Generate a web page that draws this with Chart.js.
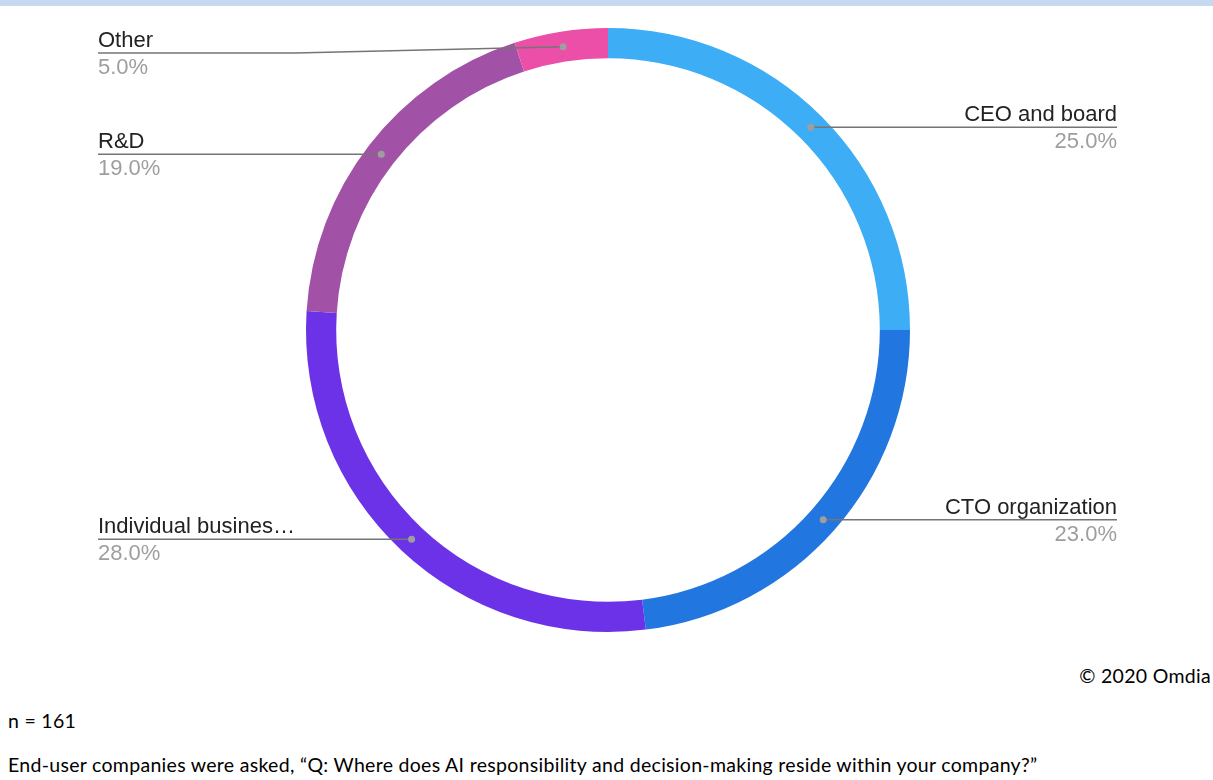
<!DOCTYPE html>
<html>
<head>
<meta charset="utf-8">
<script src="https://cdn.jsdelivr.net/npm/chart.js@4.4.1/dist/chart.umd.min.js"></script>
<style>
  html, body { margin: 0; padding: 0; background: #fff; }
  body { width: 1213px; height: 780px; position: relative; overflow: hidden; }
  .band { position: absolute; left: 0; top: 0; width: 1213px; height: 6px; background: #c6d9f0; }
  .chart-box { position: absolute; left: 0; top: 0; width: 1213px; height: 660px; }
  .note { position: absolute; font-family: Lato, sans-serif; font-size: 19.5px; letter-spacing: 0.3px; color: #000; white-space: nowrap; }
</style>
</head>
<body>
<div class="band"></div>
<div class="chart-box"><canvas id="chart"></canvas></div>
<div class="note" id="copy" style="right: 2px; top: 664px;">© 2020 Omdia</div>
<div class="note" id="base" style="left: 8px; top: 709px;">n = 161</div>
<div class="note" id="question" style="left: 8px; top: 753px;">End-user companies were asked, “Q: Where does AI responsibility and decision-making reside within your company?”</div>

<script>
const labels = ['CEO and board', 'CTO organization', 'Individual busines…', 'R&D', 'Other']
const shares = [25.0, 23.0, 28.0, 19.0, 5.0]
const colors = ['#3daef5', '#2276e0', '#6b32e8', '#a152a6', '#ec4fa8']

// leader lines with name + percentage at each side of the ring
const sideLabels = {
  id: 'sideLabels',
  afterDraw(chart, args, opts) {
    const ctx = chart.ctx
    const meta = chart.getDatasetMeta(0)
    meta.data.forEach((arc, i) => {
      const mid = (arc.startAngle + arc.endAngle) / 2
      const r = (arc.innerRadius + arc.outerRadius) / 2
      const dx = arc.x + Math.cos(mid) * r
      const dy = arc.y + Math.sin(mid) * r
      const right = Math.cos(mid) >= 0
      const lineY = Math.max(dy, opts.minY)
      const endX = right ? opts.rightX : opts.leftX

      ctx.save()
      ctx.strokeStyle = '#757575'
      ctx.lineWidth = 1.5
      ctx.beginPath()
      ctx.moveTo(dx, dy)
      if (lineY !== dy) {
        const elbowX = right ? opts.rightElbow : opts.leftElbow
        ctx.lineTo(elbowX, lineY)
      }
      ctx.lineTo(endX, lineY)
      ctx.stroke()

      ctx.fillStyle = '#9e9e9e'
      ctx.beginPath()
      ctx.arc(dx, dy, 3.5, 0, Math.PI * 2)
      ctx.fill()

      ctx.textAlign = right ? 'right' : 'left'
      ctx.textBaseline = 'alphabetic'
      ctx.font = '22px "Liberation Sans", Arial, sans-serif'
      ctx.fillStyle = '#222222'
      ctx.fillText(chart.data.labels[i], endX, lineY - 6)
      ctx.fillStyle = '#9e9e9e'
      ctx.fillText(shares[i].toFixed(1) + '%', endX, lineY + 21)
      ctx.restore()
    })
  }
}

new Chart(document.getElementById('chart'), {
  type: 'doughnut',
  data: {
    labels: labels,
    datasets: [
      {
        data: shares,
        backgroundColor: colors,
        borderWidth: 0,
      },
    ],
  },
  options: {
    responsive: true,
    maintainAspectRatio: false,
    animation: false,
    events: [],
    cutout: '90%',
    layout: {
      padding: { top: 28, bottom: 28, left: 3, right: 0 },
    },
    plugins: {
      legend: { display: false },
      tooltip: { enabled: false },
      sideLabels: { leftX: 98, rightX: 1117, minY: 53, leftElbow: 295, rightElbow: 920 },
    },
  },
  plugins: [sideLabels],
})
</script>
</body>
</html>
